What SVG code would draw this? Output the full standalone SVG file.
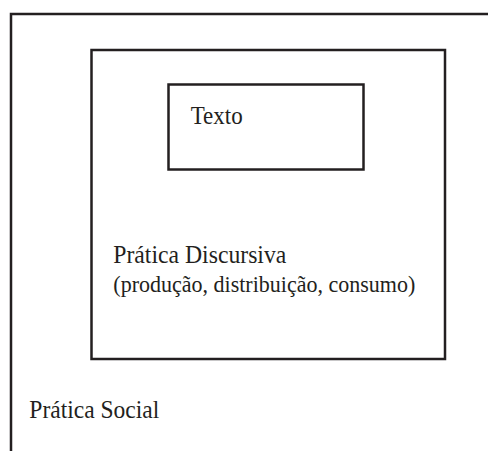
<svg xmlns="http://www.w3.org/2000/svg" width="488" height="451" viewBox="0 0 488 451">
<style>
.box{fill:none;stroke:#231f20;stroke-width:2.5}
.lbl{font-family:"Liberation Serif","Times New Roman",serif;fill:#231f20}
</style>
<rect width="488" height="451" fill="#ffffff"/>
<g id="pratica-social">
<path class="box" d="M11,451 V14 H488"/>
<text class="lbl" x="29.3" y="418" font-size="24.5" textLength="130" lengthAdjust="spacingAndGlyphs">Prática Social</text>
</g>
<g id="pratica-discursiva">
<rect class="box" x="91.5" y="50" width="353.5" height="309"/>
<text class="lbl" x="113.3" y="263" font-size="24.5" textLength="173" lengthAdjust="spacingAndGlyphs">Prática Discursiva</text>
<text class="lbl" x="113.3" y="292" font-size="23" textLength="302" lengthAdjust="spacingAndGlyphs">(produção, distribuição, consumo)</text>
</g>
<g id="texto">
<rect class="box" x="168.5" y="84.5" width="195" height="85"/>
<text class="lbl" x="190.7" y="124" font-size="25.5" textLength="52" lengthAdjust="spacingAndGlyphs">Texto</text>
</g>
<g id="connectors"/>
</svg>
